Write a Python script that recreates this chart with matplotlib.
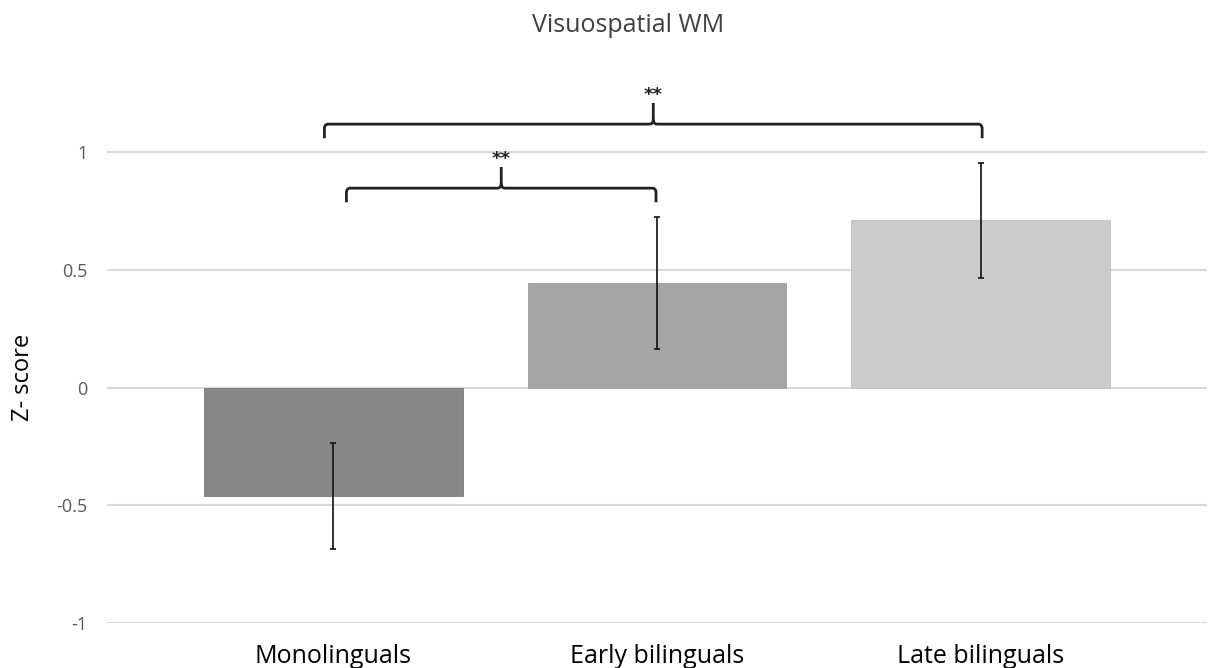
import matplotlib
matplotlib.use("Agg")
import matplotlib.pyplot as plt
from matplotlib.path import Path
from matplotlib.patches import PathPatch

plt.rcParams['font.family'] = ['Open Sans', 'DejaVu Sans']

# ---- data ----
categories = ["Monolinguals", "Early bilinguals", "Late bilinguals"]
means = [-0.46, 0.445, 0.71]
errors = [0.226, 0.28, 0.243]
bar_colors = ["#878787", "#a5a5a5", "#cbcbcb"]
yticks = [-1, -0.5, 0, 0.5, 1]
ytick_labels = ["-1", "-0.5", "0", "0.5", "1"]
title = "Visuospatial WM"
ylabel = "Z- score"
# significance comparisons: (left x, right x, brace height, label)
comparisons = [(-0.028, 2.005, 1.119, "**"),
               (0.040, 0.997, 0.847, "**")]

fig = plt.figure(figsize=(12.10, 6.68), dpi=100)
ax = fig.add_axes([107/1210, 45/668, 1100/1210, (623-81.5)/668])

x = list(range(len(categories)))
ax.bar(x, means, width=0.8, color=bar_colors, edgecolor=["#7a7a7a", "#999999", "#c0c0c0"],
       linewidth=0.6, zorder=2)
ax.errorbar(x, means, yerr=errors, fmt='none', ecolor='#111111', elinewidth=1.2,
            capsize=2, capthick=1.2, zorder=3)

ax.set_xlim(-0.70, 2.70)
ax.set_ylim(-1, 1.3)
ax.set_yticks(yticks)
ax.set_yticklabels(ytick_labels)
ax.set_xticks(x)
ax.set_xticklabels(categories)
ax.tick_params(axis='y', length=0, pad=14, labelsize=13, labelcolor='#595959')
ax.tick_params(axis='x', length=0, pad=15, labelsize=18, labelcolor='#000000')
for s in ax.spines.values():
    s.set_visible(False)
ax.grid(axis='y', color='#d9d9d9', linewidth=1.5, zorder=0)
ax.set_axisbelow(True)

fig.text(23/1210, 1 - 377/668, ylabel, rotation=90, ha='center', va='center',
         fontsize=17, color='#000000')
fig.text(628/1210, 1 - 32/668, title, ha='center', va='baseline', fontsize=18,
         color='#404040')

# braces
rx, ry = 0.012, 0.02
drop = 0.06
tip = 0.09
for (x0, x1, yl, lab) in comparisons:
    xm = (x0 + x1) / 2
    verts = [
        (x0, yl - drop), (x0, yl - ry), (x0, yl), (x0 + rx, yl),
        (xm - rx, yl), (xm, yl), (xm, yl + ry), (xm, yl + tip),
    ]
    codes = [Path.MOVETO, Path.LINETO, Path.CURVE3, Path.CURVE3,
             Path.LINETO, Path.CURVE3, Path.CURVE3, Path.LINETO]
    verts2 = [
        (x1, yl - drop), (x1, yl - ry), (x1, yl), (x1 - rx, yl),
        (xm + rx, yl), (xm, yl), (xm, yl + ry),
    ]
    codes2 = [Path.MOVETO, Path.LINETO, Path.CURVE3, Path.CURVE3,
              Path.LINETO, Path.CURVE3, Path.CURVE3]
    for v, c in ((verts, codes), (verts2, codes2)):
        ax.add_patch(PathPatch(Path(v, c), fill=False, edgecolor='#222222',
                               linewidth=2.0, capstyle='butt', zorder=4))
    ax.text(xm, yl + tip - 0.005, lab, ha='center', va='bottom', fontsize=13,
            fontweight='bold', color='#222222', family='DejaVu Sans')

fig.savefig("out.png", dpi=100, facecolor='white')
